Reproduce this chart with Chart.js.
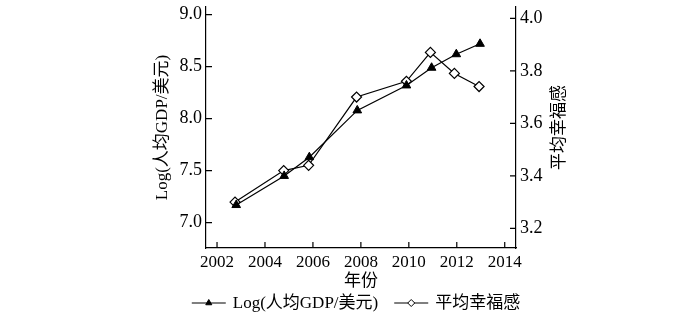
<!DOCTYPE html>
<html>
<head>
<meta charset="utf-8">
<script src="https://cdn.jsdelivr.net/npm/chart.js@4/dist/chart.umd.min.js"></script>
<style>
    body { margin: 0; background: #fff; }
</style>
</head>
<body>
<canvas id="graficoPib" width="700" height="318"></canvas>
<script>
// valores
const anosPib = [2002.8, 2004.8, 2005.85, 2007.85, 2009.9, 2010.95, 2011.98, 2012.97];
const logPib = [7.17, 7.45, 7.63, 8.08, 8.32, 8.49, 8.62, 8.72];
const anosFelicidade = [2002.75, 2004.78, 2005.82, 2007.82, 2009.9, 2010.9, 2011.9, 2012.93];
const felicidade = [3.30, 3.42, 3.44, 3.70, 3.76, 3.87, 3.79, 3.74];

const ticksAnos = [2002, 2004, 2006, 2008, 2010, 2012, 2014];
const ticksPib = [7.0, 7.5, 8.0, 8.5, 9.0];
const ticksFelicidade = [3.2, 3.4, 3.6, 3.8, 4.0];

const fonteSerif = "'Liberation Serif', 'Noto Sans CJK SC', serif";
Chart.defaults.font.family = fonteSerif;
Chart.defaults.color = '#000';

// ticks para dentro, título da direita e legenda desenhados à mão
const extras = {
    id: 'extras',
    afterDraw(chart) {
        const ctx = chart.ctx;
        const area = chart.chartArea;
        const tam = 6;
        ctx.save();
        ctx.strokeStyle = '#000';
        ctx.lineWidth = 1.2;
        ctx.beginPath();
        const sx = chart.scales.x;
        sx.ticks.forEach(t => {
            const px = sx.getPixelForValue(t.value);
            ctx.moveTo(px, area.bottom);
            ctx.lineTo(px, area.bottom - tam);
        });
        const sy = chart.scales.y;
        sy.ticks.forEach(t => {
            const py = sy.getPixelForValue(t.value);
            ctx.moveTo(area.left, py);
            ctx.lineTo(area.left + tam, py);
        });
        const sy1 = chart.scales.y1;
        sy1.ticks.forEach(t => {
            const py = sy1.getPixelForValue(t.value);
            ctx.moveTo(area.right, py);
            ctx.lineTo(area.right - tam, py);
        });
        ctx.stroke();

        // título do eixo direito (lido de baixo para cima)
        ctx.save();
        ctx.translate(area.right + 44, (area.top + area.bottom) / 2);
        ctx.rotate(-Math.PI / 2);
        ctx.textAlign = 'center';
        ctx.textBaseline = 'middle';
        ctx.font = '17px ' + fonteSerif;
        ctx.fillStyle = '#000';
        ctx.fillText('平均幸福感', 0, 0);
        ctx.restore();

        // legenda
        ctx.font = '17px ' + fonteSerif;
        const amostra = 34, folga = 7, entre = 16;
        const itens = chart.data.datasets.map(ds => ({ ds, w: ctx.measureText(ds.label).width }));
        const total = itens.reduce((s, it) => s + amostra + folga + it.w, 0) + entre * (itens.length - 1);
        let x = (area.left + area.right) / 2 - 5 - total / 2;
        const y = 303;
        itens.forEach(it => {
            ctx.beginPath();
            ctx.lineWidth = 1.2;
            ctx.strokeStyle = '#000';
            ctx.moveTo(x, y);
            ctx.lineTo(x + amostra, y);
            ctx.stroke();
            ctx.fillStyle = it.ds.pointBackgroundColor;
            ctx.strokeStyle = '#000';
            ctx.lineWidth = 1;
            Chart.helpers.drawPoint(ctx, { pointStyle: it.ds.pointStyle, radius: 3.5, borderWidth: 1, rotation: 0 }, x + amostra / 2, y);
            ctx.fillStyle = '#000';
            ctx.textAlign = 'left';
            ctx.textBaseline = 'middle';
            ctx.fillText(it.ds.label, x + amostra + folga, y + 1);
            x += amostra + folga + it.w + entre;
        });
        ctx.restore();
    }
};

const bordaPreta = { display: true, color: '#000', width: 1.2 };

const configuracao = {
    type: 'line',
    data: {
        datasets: [{
            label: 'Log(人均GDP/美元)',
            data: anosPib.map((a, i) => ({ x: a, y: logPib[i] })),
            yAxisID: 'y',
            borderColor: '#000',
            borderWidth: 1.2,
            pointStyle: 'triangle',
            pointRadius: 5,
            pointBackgroundColor: '#000',
            pointBorderColor: '#000',
            pointBorderWidth: 1
        }, {
            label: '平均幸福感',
            data: anosFelicidade.map((a, i) => ({ x: a, y: felicidade[i] })),
            yAxisID: 'y1',
            borderColor: '#000',
            borderWidth: 1.2,
            pointStyle: 'rectRot',
            pointRadius: 5,
            pointBackgroundColor: '#fff',
            pointBorderColor: '#000',
            pointBorderWidth: 1.2
        }]
    },
    options: {
        responsive: false,
        animation: false,
        layout: { padding: { left: 0, right: 0, top: 7, bottom: 25 } },
        plugins: { legend: { display: false }, tooltip: { enabled: false } },
        scales: {
            x: {
                type: 'linear',
                position: 'bottom',
                min: 2001.54,
                max: 2014.47,
                grid: { display: false, drawTicks: false },
                border: bordaPreta,
                afterBuildTicks: s => { s.ticks = ticksAnos.map(v => ({ value: v })); },
                ticks: { padding: 4, font: { size: 17 }, color: '#000', maxRotation: 0, autoSkip: false, callback: v => String(v) },
                title: { display: true, text: '年份', font: { size: 17 }, padding: { top: 0, bottom: 1 } },
                afterFit: s => { s.height = 45; s.paddingLeft = 0; s.paddingRight = 0; }
            },
            y: {
                position: 'left',
                min: 6.757,
                max: 9.074,
                grid: { display: false, drawTicks: false },
                border: bordaPreta,
                afterBuildTicks: s => { s.ticks = ticksPib.map(v => ({ value: v })); },
                ticks: { padding: 4, font: { size: 18 }, color: '#000', callback: v => v.toFixed(1) },
                title: { display: true, text: 'Log(人均GDP/美元)', font: { size: 17 }, padding: { top: 152, bottom: 0 } },
                afterFit: s => { s.width = 206; s.paddingTop = 0; s.paddingBottom = 0; }
            },
            y1: {
                position: 'right',
                min: 3.125,
                max: 4.043,
                grid: { display: false, drawTicks: false },
                border: bordaPreta,
                afterBuildTicks: s => { s.ticks = ticksFelicidade.map(v => ({ value: v })); },
                ticks: { padding: 4, font: { size: 18 }, color: '#000', callback: v => v.toFixed(1) },
                afterFit: s => { s.width = 184; s.paddingTop = 0; s.paddingBottom = 0; }
            }
        }
    },
    plugins: [extras]
};

var graficoPib = new Chart(document.getElementById('graficoPib'), configuracao);
</script>
</body>
</html>
